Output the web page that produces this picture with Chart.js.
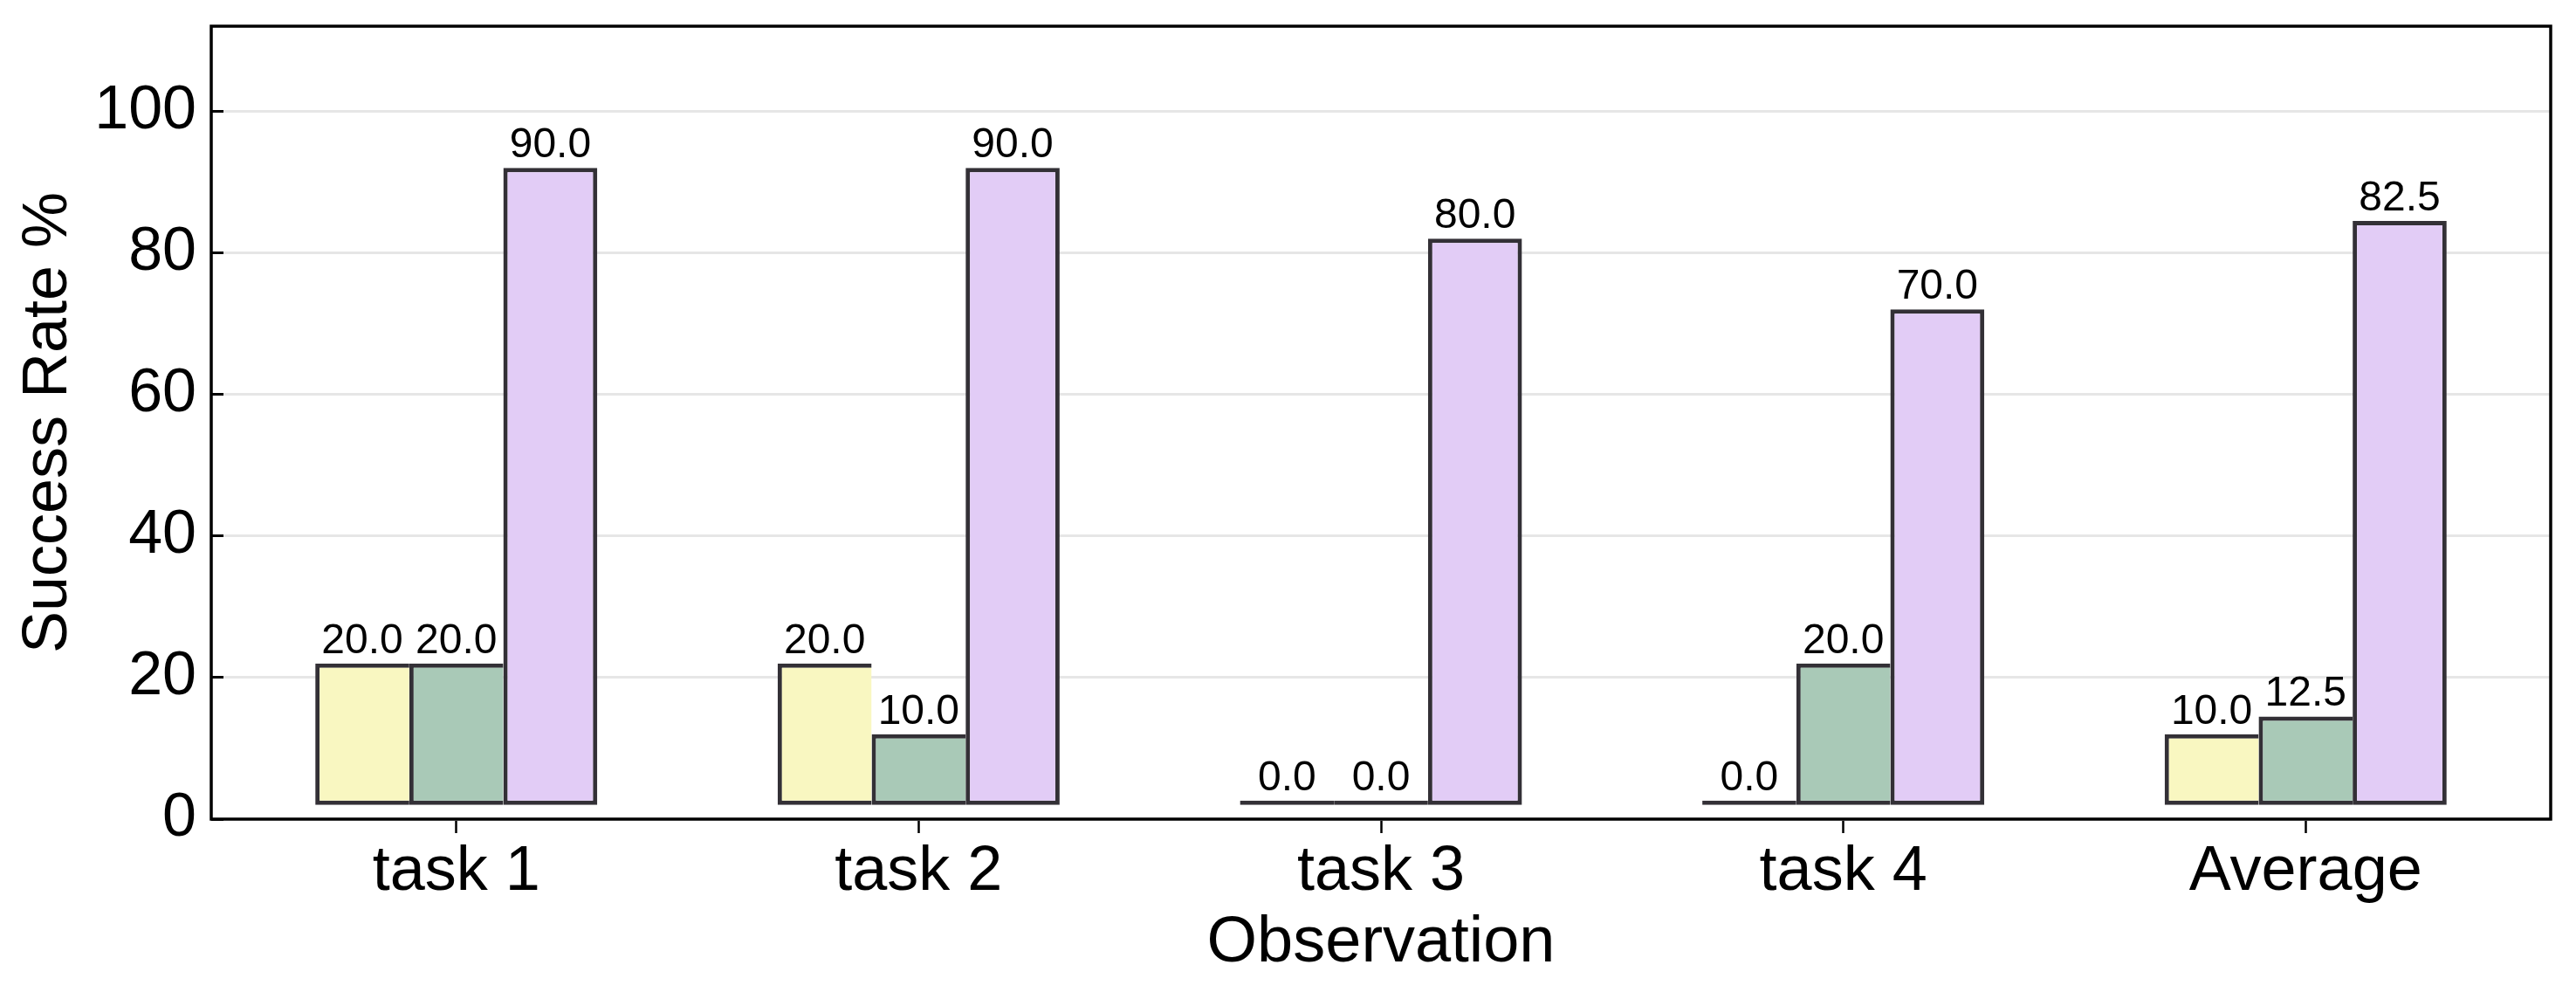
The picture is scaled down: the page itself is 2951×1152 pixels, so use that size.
<!DOCTYPE html>
<html>
<head>
<meta charset="utf-8">
<script src="https://cdn.jsdelivr.net/npm/chart.js@4.4.1/dist/chart.umd.min.js"></script>
<style>
  html, body { margin: 0; padding: 0; background: #fff; }
  #wrap { width: 2951px; height: 1152px; }
</style>
</head>
<body>
<div id="wrap"><canvas id="chart" width="2951" height="1152"></canvas></div>
<script>
const categories = ['task 1', 'task 2', 'task 3', 'task 4', 'Average'];
const seriesA = [20.0, 20.0, 0.0, 0.0, 10.0];
const seriesB = [20.0, 10.0, 0.0, 20.0, 12.5];
const seriesC = [90.0, 90.0, 80.0, 70.0, 82.5];
const yTicks = [0, 20, 40, 60, 80, 100];

// bars sit on a small floor above the axis, like the original
const barFloor = 2;
const edgeColor = '#333036';

Chart.defaults.font.family = '"Liberation Sans", Arial, sans-serif';
Chart.defaults.color = '#000';

function makeDataset(values, color, last) {
    return {
        data: values.map((v, i) => ({ x: i, y: [barFloor, barFloor + v] })),
        values: values,
        backgroundColor: color,
        borderColor: edgeColor,
        borderWidth: last ? 5 : { top: 5, bottom: 5, left: 5, right: 0 },
        borderSkipped: false,
        minBarLength: 5,
        categoryPercentage: 0.61,
        barPercentage: 1.0
    };
}

const valueLabels = {
    id: 'valueLabels',
    afterDatasetsDraw(chart) {
        const ctx = chart.ctx;
        ctx.save();
        ctx.font = '48px "Liberation Sans", Arial, sans-serif';
        ctx.fillStyle = '#000';
        ctx.textAlign = 'center';
        ctx.textBaseline = 'alphabetic';
        chart.data.datasets.forEach((ds, di) => {
            chart.getDatasetMeta(di).data.forEach((bar, i) => {
                ctx.fillText(ds.values[i].toFixed(1), bar.x, bar.y - 12);
            });
        });
        ctx.restore();
    }
};

const frame = {
    id: 'frame',
    afterDraw(chart) {
        const a = chart.chartArea;
        const ctx = chart.ctx;
        ctx.save();
        ctx.strokeStyle = '#000';
        ctx.lineWidth = 3.5;
        ctx.strokeRect(a.left, a.top, a.right - a.left, a.bottom - a.top);
        ctx.restore();
    }
};

new Chart(document.getElementById('chart'), {
    type: 'bar',
    data: {
        datasets: [
            makeDataset(seriesA, '#f9f7c1', false),
            makeDataset(seriesB, '#a9c9b7', false),
            makeDataset(seriesC, '#e2ccf6', true)
        ]
    },
    options: {
        responsive: false,
        devicePixelRatio: 1,
        animation: false,
        layout: { padding: { top: 30, right: 29, left: 0, bottom: 0 } },
        plugins: { legend: { display: false }, tooltip: { enabled: false } },
        scales: {
            x: {
                type: 'linear',
                min: -0.53,
                max: 4.53,
                offset: false,
                afterBuildTicks: s => { s.ticks = categories.map((c, i) => ({ value: i })); },
                afterFit: s => { s.height = 214; s.paddingLeft = 0; s.paddingRight = 0; },
                ticks: {
                    callback: v => categories[v],
                    font: { size: 72 },
                    padding: 2,
                    maxRotation: 0,
                    autoSkip: false
                },
                grid: {
                    offset: false,
                    drawOnChartArea: false,
                    drawTicks: true,
                    tickLength: 16,
                    tickWidth: 2.5,
                    tickColor: '#000'
                },
                border: { display: false },
                title: {
                    display: true,
                    text: 'Observation',
                    font: { size: 74 },
                    padding: { top: 0, bottom: 27 }
                }
            },
            y: {
                min: 0,
                max: 112,
                afterBuildTicks: s => { s.ticks = yTicks.map(v => ({ value: v })); },
                afterFit: s => { s.width = 242; s.paddingTop = 0; s.paddingBottom = 0; },
                ticks: {
                    font: { size: 70 },
                    padding: 31
                },
                grid: {
                    color: '#e6e6e6',
                    lineWidth: 3,
                    drawTicks: true,
                    tickLength: -14,
                    tickWidth: 3,
                    tickColor: '#000'
                },
                border: { display: false },
                title: {
                    display: true,
                    text: 'Success Rate %',
                    font: { size: 72 },
                    padding: { top: 13, bottom: 0 }
                }
            }
        }
    },
    plugins: [valueLabels, frame]
});
</script>
</body>
</html>
